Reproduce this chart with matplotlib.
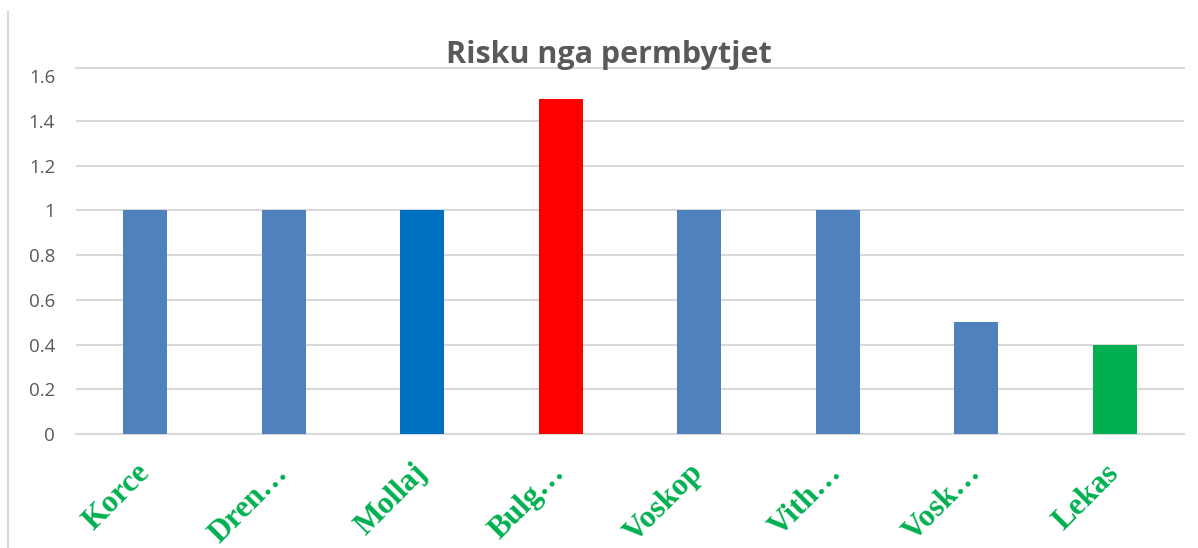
import numpy as np
import matplotlib
matplotlib.use("Agg")
import matplotlib.pyplot as plt
from matplotlib.ticker import FuncFormatter

# te dhenat
categories = ["Korce", "Dren\u2026", "Mollaj", "Bulg\u2026", "Voskop", "Vith\u2026", "Vosk\u2026", "Lekas"]
risk = [1.0, 1.0, 1.0, 1.5, 1.0, 1.0, 0.5, 0.4]
bar_colors = ["#4F81BD", "#4F81BD", "#0070C0", "#FF0000", "#4F81BD", "#4F81BD", "#4F81BD", "#00B050"]
yticks = [0, 0.2, 0.4, 0.6, 0.8, 1.0, 1.2, 1.4, 1.6]

GRID = "#D9D9D9"

fig = plt.figure(figsize=(11.98, 5.48), dpi=100)
ax = fig.add_axes([0.0634, 0.208, 0.925, 0.668])

xs = np.arange(len(categories))
ax.bar(xs, risk, width=0.32, color=bar_colors, zorder=3)

ax.set_xlim(-0.5, len(categories) - 0.5)
# zona e grafikut shkon pak mbi 1.6 (si ne Excel), vija e siperme = kufiri
ax.set_ylim(0, 1.637)
ax.set_yticks(yticks)
ax.yaxis.set_major_formatter(FuncFormatter(lambda v, p: f"{v:g}"))
ax.grid(axis="y", color=GRID, linewidth=1.5, zorder=0)
ax.yaxis.get_gridlines()[-1].set_visible(False)
for s in ["right", "left"]:
    ax.spines[s].set_visible(False)
for s in ["bottom", "top"]:
    ax.spines[s].set_color(GRID)
    ax.spines[s].set_linewidth(1.5)
ax.tick_params(axis="both", length=0)
ax.tick_params(axis="y", labelsize=13.5, labelcolor="#595959", pad=15)
for lab in ax.get_yticklabels():
    lab.set_fontfamily("Open Sans")

ax.set_xticks(xs)
ax.set_xticklabels(categories, rotation=45, ha="right", va="center",
                   rotation_mode="anchor",
                   fontsize=22.5, fontweight="bold", color="#00B050",
                   fontfamily="Liberation Serif")
ax.tick_params(axis="x", pad=25)

fig.text(0.508, 0.9, "Risku nga permbytjet", ha="center", va="center",
         fontsize=22, fontweight="bold", color="#595959", fontfamily="Open Sans")

# kornize e majte e grafikut
fig.add_artist(plt.Line2D([0.007, 0.007], [0.0, 0.978], color=GRID, linewidth=1.5,
                          transform=fig.transFigure))

fig.savefig("out.png", dpi=100)
